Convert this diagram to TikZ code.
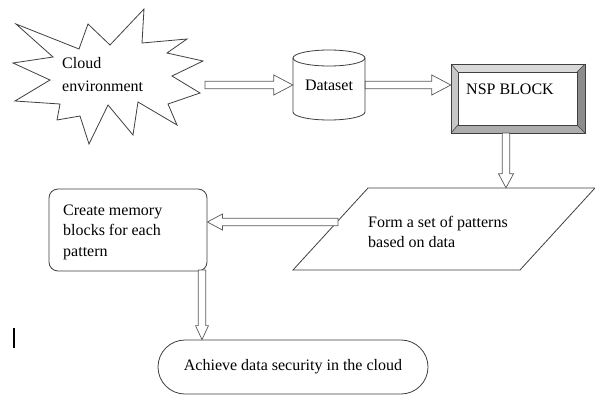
\documentclass[tikz,border=0pt]{standalone}
\usepackage{fontspec}
\setmainfont{Liberation Serif}
\usetikzlibrary{calc}
\tikzset{
  shapeline/.style={draw=black!75, line width=0.8pt},
  blockarrow/.style={draw=black!65, line width=0.7pt, fill=white, line join=miter},
  txt/.style={inner sep=0pt, align=left, font=\fontsize{16}{20.5}\selectfont},
}
% hollow block arrow from #1 to #2; #3 = half width of the head, #4 = head length
\newcommand\hollowarrow[4]{%
  \coordinate (ha-base) at ($(#2)!#4pt!(#1)$);
  \draw[blockarrow]
    ($(#1)!3.7pt!90:(#2)$) -- ($(ha-base)!3.7pt!90:(#2)$) --
    ($(ha-base)!#3pt!90:(#2)$) -- (#2) --
    ($(ha-base)!#3pt!-90:(#2)$) -- ($(ha-base)!3.7pt!-90:(#2)$) --
    ($(#1)!3.7pt!-90:(#2)$) -- cycle;
}
\begin{document}
\begin{tikzpicture}[x=1pt, y=-1pt]
\useasboundingbox[fill=white] (0,0) rectangle (595,394);

% cloud environment (starburst)
\draw[shapeline, fill=white, line join=miter]
  (16,24) -- (79,49) -- (88,24) -- (110,45) -- (144,9) -- (142,43) --
  (187,39) -- (167,53) -- (203,61) -- (172,76) -- (200,93) -- (168,104) --
  (177,125) -- (138,102) -- (133,135) -- (108,105) -- (89,144) -- (80,116) --
  (57,120) -- (60,104) -- (15,101) -- (50,80) -- (13,63) -- (53,57) -- cycle;
\node[txt, anchor=west, font=\fontsize{16}{22.5}\selectfont] (cloud) at (62,74.5) {Cloud\\environment};
\coordinate (cloud-r) at (205,85);

% dataset cylinder
\node[minimum width=72pt, minimum height=70pt, inner sep=0pt] (dataset) at (329,85) {};
\draw[shapeline, fill=white]
  (293,58) -- (293,112) arc[start angle=180, end angle=360, x radius=36pt, y radius=8pt]
  -- (365,58);
\draw[shapeline] (329,58) ellipse[x radius=36pt, y radius=8pt];
\node[txt] at (329,85) {Dataset};

% NSP block (bevelled box)
\node[minimum width=134pt, minimum height=69pt, inner sep=0pt] (nsp) at (518,98.5) {};
\coordinate (o1) at (451,64);  \coordinate (o2) at (585,64);
\coordinate (o3) at (585,133); \coordinate (o4) at (451,133);
\coordinate (i1) at (458,72);  \coordinate (i2) at (577,72);
\coordinate (i3) at (577,125); \coordinate (i4) at (458,125);
\fill[black!15] (o1) -- (o2) -- (i2) -- (i1) -- cycle;
\fill[black!22] (o1) -- (i1) -- (i4) -- (o4) -- cycle;
\fill[black!45] (o2) -- (o3) -- (i3) -- (i2) -- cycle;
\fill[black!32] (o4) -- (i4) -- (i3) -- (o3) -- cycle;
\draw[shapeline] (o1) rectangle (o3);
\draw[shapeline] (i1) rectangle (i3);
\draw[draw=black!75, line width=0.6pt] (o1) -- (i1) (o2) -- (i2) (o3) -- (i3) (o4) -- (i4);
\node[txt, anchor=west] at (466,89) {NSP BLOCK};

% patterns parallelogram
\node[minimum width=302pt, minimum height=82pt, inner sep=0pt] (para) at (444,229) {};
\draw[shapeline, fill=white] (368,188) -- (595,188) -- (520,270) -- (293,270) -- cycle;
\node[txt, anchor=west] at (368,232) {Form a set of patterns\\based on data};

% memory blocks box
\node[shapeline, rounded corners=9pt, minimum width=158pt, minimum height=82pt] (mem) at (128,230) {};
\node[txt, anchor=west] at (63,232) {Create memory\\blocks for each\\pattern};

% final goal
\node[shapeline, rounded corners=27pt, minimum width=270pt, minimum height=54pt,
      font=\fontsize{16}{20}\selectfont] (goal) at (293,367) {Achieve data security in the cloud};

% text cursor mark
\draw[line width=1.3pt] (14,328) -- (14,348);

% connectors
\coordinate (d-in) at (dataset.west);
\coordinate (d-out) at (dataset.east);
\coordinate (n-in) at (d-out -| nsp.west);
\coordinate (n-out) at (506,133);
\coordinate (p-in) at (n-out |- para.north);
\coordinate (p-out) at (338,222);
\coordinate (m-in) at (p-out -| mem.east);
\coordinate (m-out) at (202,270);
\coordinate (g-in) at (m-out |- goal.north);
\hollowarrow{cloud-r}{d-in}{10}{19}
\hollowarrow{d-out}{n-in}{10}{19}
\hollowarrow{n-out}{p-in}{7.5}{14}
\hollowarrow{p-out}{m-in}{8}{15}
\hollowarrow{m-out}{g-in}{6.5}{14}
\end{tikzpicture}
\end{document}
